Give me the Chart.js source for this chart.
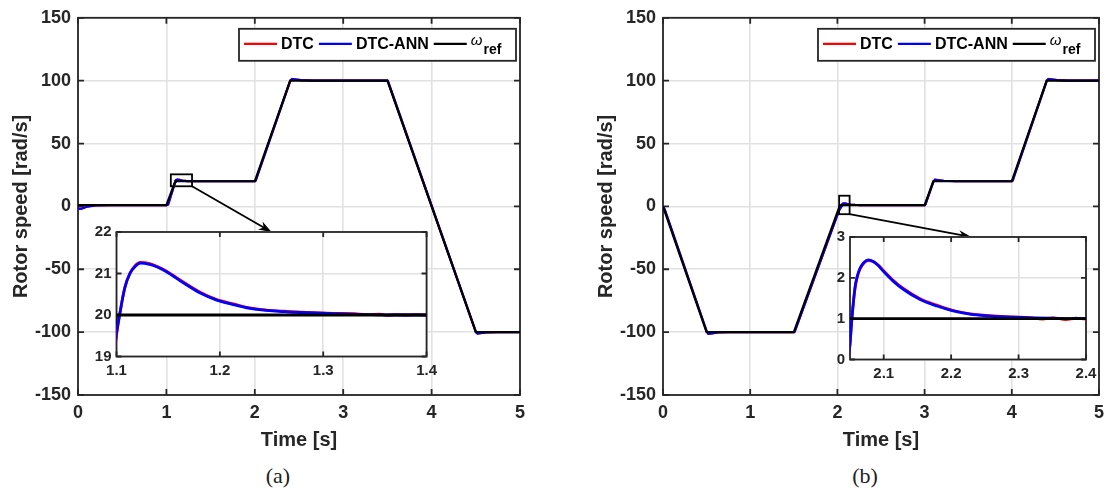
<!DOCTYPE html>
<html>
<head>
<meta charset="utf-8">
<script src="https://cdn.jsdelivr.net/npm/chart.js@4.4.1/dist/chart.umd.min.js"></script>
<style>
body { margin: 0; background: #fff; width: 1111px; height: 494px; overflow: hidden; position: relative; }
canvas { position: absolute; }
.cap { position: absolute; top: 463px; width: 60px; text-align: center; font-family: "Liberation Serif", serif; font-size: 22px; color: #222; }
</style>
</head>
<body>
<canvas id="mainA" width="540" height="460" style="left:0px;top:0px;z-index:1"></canvas>
<canvas id="insetA" width="362" height="168" style="left:80px;top:218px;z-index:2"></canvas>
<canvas id="mainB" width="526" height="460" style="left:585px;top:0px;z-index:1"></canvas>
<canvas id="insetB" width="292" height="168" style="left:814px;top:223px;z-index:2"></canvas>
<div class="cap" style="left:248px">(a)</div>
<div class="cap" style="left:835px">(b)</div>
<script>
// axis ticks
const xTicks = [0, 1, 2, 3, 4, 5];
const yTicks = [-150, -100, -50, 0, 50, 100, 150];
const insetA_xTicks = [1.1, 1.2, 1.3, 1.4];
const insetA_yTicks = [19, 20, 21, 22];
const insetB_xTicks = [2.1, 2.2, 2.3, 2.4];
const insetB_yTicks = [0, 1, 2, 3];

// (a) reference speed
const refA_t = [0, 1, 1.1, 2, 2.4, 3.5, 4.5, 5];
const refA_w = [1, 1, 20, 20, 100, 100, -100, -100];
// (a) DTC-ANN
const annA_t = [0, 0.02, 0.05, 0.1, 0.2, 0.35, 1.0, 1.02, 1.1, 1.103, 1.108, 1.113, 1.118, 1.123, 1.132, 1.14, 1.148, 1.165, 1.181, 1.197, 1.213, 1.229, 1.245, 1.262, 1.278, 1.31, 1.342, 1.37, 1.4, 2.0, 2.01, 2.4, 2.42, 2.45, 2.52, 2.65, 3.5, 3.51, 4.5, 4.52, 4.55, 4.62, 4.75, 5.0];
const annA_w = [-1.2, -2.0, -1.6, -0.3, 0.7, 1.0, 1.0, 1.6, 19.54, 20.0, 20.65, 21.0, 21.17, 21.25, 21.22, 21.15, 21.05, 20.77, 20.53, 20.36, 20.25, 20.16, 20.11, 20.08, 20.06, 20.03, 20.01, 20.0, 20.0, 20.0, 20.6, 99.7, 101.2, 101.0, 100.4, 100.05, 100, 98.9, -99.6, -101.1, -100.9, -100.3, -100.0, -100.0];
// (a) DTC
const dtcA_t = [0, 0.02, 0.05, 0.1, 0.2, 0.35, 1.0, 1.02, 1.1, 1.103, 1.108, 1.113, 1.118, 1.123, 1.132, 1.14, 1.148, 1.165, 1.181, 1.197, 1.213, 1.229, 1.245, 1.262, 1.278, 1.31, 1.33, 1.342, 1.355, 1.362, 1.37, 1.38, 1.39, 1.4, 2.0, 2.01, 2.4, 2.42, 2.45, 2.52, 2.65, 3.5, 3.51, 4.5, 4.52, 4.55, 4.62, 4.75, 5.0];
const dtcA_w = [-1.1, -2.1, -1.5, -0.3, 0.7, 1.0, 1.0, 1.6, 19.52, 20.0, 20.66, 21.01, 21.19, 21.27, 21.24, 21.16, 21.06, 20.79, 20.55, 20.37, 20.27, 20.17, 20.12, 20.09, 20.07, 20.04, 20.03, 20.01, 20.02, 19.99, 20.01, 20.0, 20.01, 20.0, 20.0, 20.6, 99.7, 101.3, 101.0, 100.4, 100.05, 100, 98.9, -99.6, -101.2, -100.9, -100.3, -100.0, -100.0];

// (b) reference speed
const refB_t = [0, 0.5, 1.5, 2.03, 3, 3.1, 4, 4.4, 5];
const refB_w = [0, -100, -100, 1, 1, 20, 20, 100, 100];
// (b) DTC-ANN
const annB_t = [0, 0.02, 0.5, 0.52, 0.56, 0.63, 0.75, 1.5, 1.51, 2.02, 2.05, 2.0525, 2.0574, 2.061, 2.065, 2.071, 2.077, 2.0844, 2.092, 2.0995, 2.114, 2.129, 2.154, 2.179, 2.203, 2.228, 2.253, 2.302, 2.352, 2.4, 3.0, 3.01, 3.1, 3.12, 3.15, 3.22, 3.35, 4.0, 4.01, 4.4, 4.42, 4.45, 4.52, 4.65, 5.0];
const annB_w = [0, -2.5, -99.2, -101.3, -101.0, -100.3, -100.0, -100, -99.6, -3.0, 0.39, 0.95, 1.76, 2.05, 2.24, 2.38, 2.44, 2.40, 2.30, 2.16, 1.92, 1.72, 1.47, 1.31, 1.19, 1.11, 1.07, 1.03, 1.01, 1.0, 1.0, 1.6, 19.5, 21.2, 21.0, 20.4, 20.05, 20, 20.6, 99.7, 101.3, 101.1, 100.4, 100.05, 100];
// (b) DTC
const dtcB_t = [0, 0.02, 0.5, 0.52, 0.56, 0.63, 0.75, 1.5, 1.51, 2.02, 2.05, 2.0525, 2.0574, 2.061, 2.065, 2.071, 2.077, 2.0844, 2.092, 2.0995, 2.114, 2.129, 2.154, 2.179, 2.203, 2.228, 2.253, 2.28, 2.302, 2.32, 2.335, 2.352, 2.37, 2.385, 2.4, 3.0, 3.01, 3.1, 3.12, 3.15, 3.22, 3.35, 4.0, 4.01, 4.4, 4.42, 4.45, 4.52, 4.65, 5.0];
const dtcB_w = [0, -2.6, -99.2, -101.4, -101.0, -100.3, -100.0, -100, -99.6, -3.0, 0.37, 0.93, 1.74, 2.04, 2.22, 2.37, 2.42, 2.40, 2.31, 2.18, 1.94, 1.74, 1.49, 1.33, 1.2, 1.12, 1.08, 1.05, 1.04, 1.02, 0.99, 1.02, 0.98, 1.01, 0.99, 1.0, 1.6, 19.5, 21.3, 21.0, 20.4, 20.05, 20, 20.6, 99.7, 101.4, 101.1, 100.4, 100.05, 100];

// zoomed regions marked on the main plots [t0, t1, w0, w1] and arrow target on the inset top edge
const zoomA = [1.05, 1.29, 16, 25.5];
const zoomA_target = 1.25;
const zoomB = [2.02, 2.14, -6.2, 8.5];
const zoomB_target = 2.23;

const ink = '#262626';
const gridColor = '#e1e1e1';

function pts(t, w) {
  return t.map((v, i) => ({x: v, y: w[i]}));
}

function series(dtcT, dtcW, annT, annW, refT, refW, lw, smooth) {
  const mode = smooth ? 'monotone' : 'default';
  return [
    {label: 'DTC', data: pts(dtcT, dtcW), borderColor: '#ff0000', borderWidth: lw, order: 2, pointRadius: 0, tension: 0, cubicInterpolationMode: mode},
    {label: 'DTC-ANN', data: pts(annT, annW), borderColor: '#0000ff', borderWidth: lw, order: 1, pointRadius: 0, tension: 0, cubicInterpolationMode: mode},
    {label: 'ref', data: pts(refT, refW), borderColor: '#000000', borderWidth: lw, order: 0, pointRadius: 0, tension: 0}
  ];
}

function fmt(v) {
  return String(+v.toFixed(2));
}

// box around the axes with inward ticks on all four sides
function framePlugin(lw, len, white) {
  return {
    id: 'frame',
    beforeDraw(chart) {
      if (!white) return;
      const a = chart.chartArea;
      chart.ctx.save();
      chart.ctx.fillStyle = '#fff';
      chart.ctx.fillRect(a.left, a.top, a.right - a.left, a.bottom - a.top);
      chart.ctx.restore();
    },
    beforeDatasetsDraw(chart) {
      const {ctx, chartArea: a, scales} = chart;
      ctx.save();
      ctx.strokeStyle = ink;
      ctx.lineWidth = lw;
      ctx.beginPath();
      scales.x.ticks.forEach(t => {
        const px = scales.x.getPixelForValue(t.value);
        ctx.moveTo(px, a.bottom); ctx.lineTo(px, a.bottom - len);
        ctx.moveTo(px, a.top); ctx.lineTo(px, a.top + len);
      });
      scales.y.ticks.forEach(t => {
        const py = scales.y.getPixelForValue(t.value);
        ctx.moveTo(a.left, py); ctx.lineTo(a.left + len, py);
        ctx.moveTo(a.right, py); ctx.lineTo(a.right - len, py);
      });
      ctx.stroke();
      ctx.strokeRect(a.left, a.top, a.right - a.left, a.bottom - a.top);
      ctx.restore();
    }
  };
}

// zoom rectangle, arrow to the inset, legend
function overlayPlugin(zoom, target, inset, dx, dy) {
  return {
    id: 'overlay',
    afterDatasetsDraw(chart) {
      const {ctx, chartArea: a, scales} = chart;
      const x0 = scales.x.getPixelForValue(zoom[0]), x1 = scales.x.getPixelForValue(zoom[1]);
      const y0 = scales.y.getPixelForValue(zoom[2]), y1 = scales.y.getPixelForValue(zoom[3]);
      ctx.save();
      ctx.strokeStyle = '#000';
      ctx.lineWidth = 1.8;
      ctx.strokeRect(x0, y1, x1 - x0, y0 - y1);
      // arrow
      const tx = inset.scales.x.getPixelForValue(target) + dx;
      const ty = inset.chartArea.top + dy;
      const ang = Math.atan2(ty - y0, tx - x1);
      const hl = 13, hw = 4.5;
      const bx = tx - hl * Math.cos(ang), by = ty - hl * Math.sin(ang);
      ctx.beginPath();
      ctx.moveTo(x1, y0);
      ctx.lineTo(tx - 6 * Math.cos(ang), ty - 6 * Math.sin(ang));
      ctx.stroke();
      ctx.fillStyle = '#000';
      ctx.beginPath();
      ctx.moveTo(tx, ty);
      ctx.lineTo(bx - hw * Math.sin(ang), by + hw * Math.cos(ang));
      ctx.lineTo(tx - 9 * Math.cos(ang), ty - 9 * Math.sin(ang));
      ctx.lineTo(bx + hw * Math.sin(ang), by - hw * Math.cos(ang));
      ctx.closePath();
      ctx.fill();

      // legend
      const bw = 277, bh = 32;
      const lx = a.right - 4 - bw, ly = a.top + 11;
      ctx.fillStyle = '#fff';
      ctx.fillRect(lx, ly, bw, bh);
      ctx.strokeStyle = ink;
      ctx.lineWidth = 1.8;
      ctx.strokeRect(lx, ly, bw, bh);
      const cy = ly + bh / 2;
      let x = lx + 5;
      ctx.textBaseline = 'middle';
      chart.data.datasets.forEach(ds => {
        ctx.strokeStyle = ds.borderColor;
        ctx.lineWidth = 2.2;
        ctx.beginPath();
        ctx.moveTo(x, cy - 1);
        ctx.lineTo(x + 33, cy - 1);
        ctx.stroke();
        x += 37;
        ctx.fillStyle = '#000';
        if (ds.label === 'ref') {
          ctx.font = 'italic 15px "Liberation Sans"';
          ctx.fillText('\u03c9', x, cy - 4);
          x += ctx.measureText('\u03c9').width + 1;
          ctx.font = 'bold 14px "Liberation Sans"';
          ctx.fillText('ref', x, cy + 5);
        } else {
          ctx.font = 'bold 16px "Liberation Sans"';
          ctx.fillText(ds.label, x, cy);
          x += ctx.measureText(ds.label).width + 5;
        }
      });
      ctx.restore();
    }
  };
}

function axisOpts(min, max, ticks, size, pad, fitName, fitVal, title, titlePad) {
  const o = {
    type: 'linear', min: min, max: max,
    afterBuildTicks: s => { s.ticks = ticks.map(v => ({value: v})); },
    grid: {color: gridColor, lineWidth: 1.6, drawTicks: false},
    border: {display: false},
    ticks: {padding: pad, color: ink, autoSkip: false, maxRotation: 0, font: {family: 'Liberation Sans', size: size, weight: 'bold'}, callback: v => fmt(v)}
  };
  o.afterFit = s => { s[fitName] = fitVal; };
  if (title) {
    o.title = {display: true, text: title, color: ink, font: {family: 'Liberation Sans', size: 20, weight: 'bold'}, padding: titlePad};
  }
  return o;
}

function makeInset(id, dsArgs, xr, yr, xt, yt, padTop, padRight, yW, xH) {
  return new Chart(document.getElementById(id), {
    type: 'line',
    data: {datasets: series(...dsArgs, 2.8, true)},
    options: {
      responsive: false, animation: false, devicePixelRatio: 1,
      layout: {padding: {left: 0, top: padTop, right: padRight, bottom: 0}},
      plugins: {legend: {display: false}, tooltip: {enabled: false}},
      scales: {
        x: axisOpts(xr[0], xr[1], xt, 15, 5, 'height', xH),
        y: axisOpts(yr[0], yr[1], yt, 15, 5, 'width', yW)
      }
    },
    plugins: [framePlugin(1.8, 5, true)]
  });
}

function makeMain(id, dsArgs, padRight, overlay) {
  return new Chart(document.getElementById(id), {
    type: 'line',
    data: {datasets: series(...dsArgs, 2.2, false)},
    options: {
      responsive: false, animation: false, devicePixelRatio: 1,
      layout: {padding: {left: 0, top: 16, right: padRight, bottom: 0}},
      plugins: {legend: {display: false}, tooltip: {enabled: false}},
      scales: {
        x: axisOpts(0, 5, xTicks, 18, 7, 'height', 65, 'Time [s]', {top: 0, bottom: 8}),
        y: axisOpts(-150, 150, yTicks, 18, 7, 'width', 78, 'Rotor speed [rad/s]', {top: 9, bottom: 0})
      }
    },
    plugins: [framePlugin(1.8, 6, false), overlay]
  });
}

const insetA = makeInset('insetA', [dtcA_t, dtcA_w, annA_t, annA_w, refA_t, refA_w], [1.1, 1.4], [19, 22], insetA_xTicks, insetA_yTicks, 12, 15, 36.5, 29.5);
const insetB = makeInset('insetB', [dtcB_t, dtcB_w, annB_t, annB_w, refB_t, refB_w], [2.05, 2.4], [0, 3], insetB_xTicks, insetB_yTicks, 12, 20, 36, 31.5);

makeMain('mainA', [dtcA_t, dtcA_w, annA_t, annA_w, refA_t, refA_w], 20, overlayPlugin(zoomA, zoomA_target, insetA, 80 - 0, 218 - 0));
makeMain('mainB', [dtcB_t, dtcB_w, annB_t, annB_w, refB_t, refB_w], 6, overlayPlugin(zoomB, zoomB_target, insetB, 814 - 585, 223 - 0));
</script>
</body>
</html>
